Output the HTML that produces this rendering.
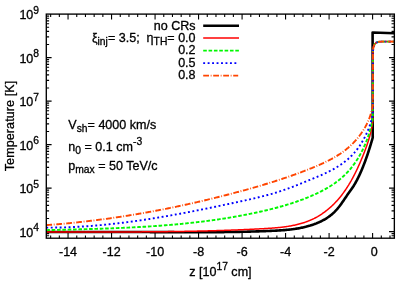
<!DOCTYPE html>
<html><head><meta charset="utf-8"><title>Temperature profile</title>
<style>
html,body{margin:0;padding:0;background:#fff;}
body{width:415px;height:291px;overflow:hidden;font-family:"Liberation Sans",sans-serif;}
svg{display:block;will-change:transform;}
</style></head><body>
<svg width="415" height="291" viewBox="0 0 415 291">
<defs><clipPath id="clip"><rect x="46.3" y="14.1" width="348.05" height="224.1"/></clipPath></defs>
<rect width="415" height="291" fill="#fff"/>
<path d="M50.65,238.2 v-2.8 M50.65,14.1 v2.8 M59.35,238.2 v-2.8 M59.35,14.1 v2.8 M68.05,238.2 v-5.3 M68.05,14.1 v5.3 M76.75,238.2 v-2.8 M76.75,14.1 v2.8 M85.46,238.2 v-2.8 M85.46,14.1 v2.8 M94.16,238.2 v-2.8 M94.16,14.1 v2.8 M102.86,238.2 v-2.8 M102.86,14.1 v2.8 M111.56,238.2 v-5.3 M111.56,14.1 v5.3 M120.26,238.2 v-2.8 M120.26,14.1 v2.8 M128.96,238.2 v-2.8 M128.96,14.1 v2.8 M137.66,238.2 v-2.8 M137.66,14.1 v2.8 M146.36,238.2 v-2.8 M146.36,14.1 v2.8 M155.07,238.2 v-5.3 M155.07,14.1 v5.3 M163.77,238.2 v-2.8 M163.77,14.1 v2.8 M172.47,238.2 v-2.8 M172.47,14.1 v2.8 M181.17,238.2 v-2.8 M181.17,14.1 v2.8 M189.87,238.2 v-2.8 M189.87,14.1 v2.8 M198.57,238.2 v-5.3 M198.57,14.1 v5.3 M207.27,238.2 v-2.8 M207.27,14.1 v2.8 M215.97,238.2 v-2.8 M215.97,14.1 v2.8 M224.68,238.2 v-2.8 M224.68,14.1 v2.8 M233.38,238.2 v-2.8 M233.38,14.1 v2.8 M242.08,238.2 v-5.3 M242.08,14.1 v5.3 M250.78,238.2 v-2.8 M250.78,14.1 v2.8 M259.48,238.2 v-2.8 M259.48,14.1 v2.8 M268.18,238.2 v-2.8 M268.18,14.1 v2.8 M276.88,238.2 v-2.8 M276.88,14.1 v2.8 M285.58,238.2 v-5.3 M285.58,14.1 v5.3 M294.29,238.2 v-2.8 M294.29,14.1 v2.8 M302.99,238.2 v-2.8 M302.99,14.1 v2.8 M311.69,238.2 v-2.8 M311.69,14.1 v2.8 M320.39,238.2 v-2.8 M320.39,14.1 v2.8 M329.09,238.2 v-5.3 M329.09,14.1 v5.3 M337.79,238.2 v-2.8 M337.79,14.1 v2.8 M346.49,238.2 v-2.8 M346.49,14.1 v2.8 M355.19,238.2 v-2.8 M355.19,14.1 v2.8 M363.90,238.2 v-2.8 M363.90,14.1 v2.8 M372.60,238.2 v-5.3 M372.60,14.1 v5.3 M381.30,238.2 v-2.8 M381.30,14.1 v2.8 M390.00,238.2 v-2.8 M390.00,14.1 v2.8 M46.3,235.82 h2.8 M394.35,235.82 h-2.8 M46.3,233.59 h2.8 M394.35,233.59 h-2.8 M46.3,231.60 h5.3 M394.35,231.60 h-5.3 M46.3,218.51 h2.8 M394.35,218.51 h-2.8 M46.3,210.85 h2.8 M394.35,210.85 h-2.8 M46.3,205.41 h2.8 M394.35,205.41 h-2.8 M46.3,201.19 h2.8 M394.35,201.19 h-2.8 M46.3,197.75 h2.8 M394.35,197.75 h-2.8 M46.3,194.84 h2.8 M394.35,194.84 h-2.8 M46.3,192.32 h2.8 M394.35,192.32 h-2.8 M46.3,190.09 h2.8 M394.35,190.09 h-2.8 M46.3,188.10 h5.3 M394.35,188.10 h-5.3 M46.3,175.01 h2.8 M394.35,175.01 h-2.8 M46.3,167.35 h2.8 M394.35,167.35 h-2.8 M46.3,161.91 h2.8 M394.35,161.91 h-2.8 M46.3,157.69 h2.8 M394.35,157.69 h-2.8 M46.3,154.25 h2.8 M394.35,154.25 h-2.8 M46.3,151.34 h2.8 M394.35,151.34 h-2.8 M46.3,148.82 h2.8 M394.35,148.82 h-2.8 M46.3,146.59 h2.8 M394.35,146.59 h-2.8 M46.3,144.60 h5.3 M394.35,144.60 h-5.3 M46.3,131.51 h2.8 M394.35,131.51 h-2.8 M46.3,123.85 h2.8 M394.35,123.85 h-2.8 M46.3,118.41 h2.8 M394.35,118.41 h-2.8 M46.3,114.19 h2.8 M394.35,114.19 h-2.8 M46.3,110.75 h2.8 M394.35,110.75 h-2.8 M46.3,107.84 h2.8 M394.35,107.84 h-2.8 M46.3,105.32 h2.8 M394.35,105.32 h-2.8 M46.3,103.09 h2.8 M394.35,103.09 h-2.8 M46.3,101.10 h5.3 M394.35,101.10 h-5.3 M46.3,88.01 h2.8 M394.35,88.01 h-2.8 M46.3,80.35 h2.8 M394.35,80.35 h-2.8 M46.3,74.91 h2.8 M394.35,74.91 h-2.8 M46.3,70.69 h2.8 M394.35,70.69 h-2.8 M46.3,67.25 h2.8 M394.35,67.25 h-2.8 M46.3,64.34 h2.8 M394.35,64.34 h-2.8 M46.3,61.82 h2.8 M394.35,61.82 h-2.8 M46.3,59.59 h2.8 M394.35,59.59 h-2.8 M46.3,57.60 h5.3 M394.35,57.60 h-5.3 M46.3,44.51 h2.8 M394.35,44.51 h-2.8 M46.3,36.85 h2.8 M394.35,36.85 h-2.8 M46.3,31.41 h2.8 M394.35,31.41 h-2.8 M46.3,27.19 h2.8 M394.35,27.19 h-2.8 M46.3,23.75 h2.8 M394.35,23.75 h-2.8 M46.3,20.84 h2.8 M394.35,20.84 h-2.8 M46.3,18.32 h2.8 M394.35,18.32 h-2.8 M46.3,16.09 h2.8 M394.35,16.09 h-2.8" stroke="#000" stroke-width="1.1" fill="none"/>
<g fill="none" stroke-linejoin="round" clip-path="url(#clip)">
<path d="M46.30,232.00 L47.24,232.00 L48.19,232.00 L49.13,232.00 L50.08,232.00 L51.02,232.00 L51.97,232.00 L52.91,232.00 L53.86,232.00 L54.80,232.00 L55.75,232.00 L56.69,232.00 L57.64,232.00 L58.58,232.00 L59.53,232.00 L60.47,232.00 L61.42,232.00 L62.36,232.00 L63.30,232.00 L64.25,232.00 L65.19,232.00 L66.14,232.00 L67.08,232.00 L68.03,232.00 L68.97,232.00 L69.92,232.00 L70.86,232.00 L71.81,232.00 L72.75,232.00 L73.70,232.00 L74.64,232.00 L75.59,232.00 L76.53,232.00 L77.47,232.00 L78.42,232.00 L79.36,232.00 L80.31,232.00 L81.25,232.00 L82.20,232.00 L83.14,232.00 L84.09,232.00 L85.03,232.00 L85.98,232.00 L86.92,232.00 L87.86,232.00 L88.81,232.00 L89.75,232.00 L90.70,232.00 L91.64,232.00 L92.59,232.00 L93.53,232.00 L94.48,232.00 L95.42,232.00 L96.36,232.00 L97.31,232.00 L98.25,232.00 L99.20,232.00 L100.14,232.00 L101.09,232.00 L102.03,232.00 L102.98,232.00 L103.92,232.00 L104.86,232.00 L105.81,232.00 L106.75,232.00 L107.70,232.00 L108.64,232.00 L109.59,232.00 L110.53,232.00 L111.48,232.00 L112.42,232.00 L113.36,232.00 L114.31,232.00 L115.25,232.01 L116.20,232.01 L117.14,232.01 L118.09,232.01 L119.03,232.01 L119.98,232.01 L120.92,232.01 L121.86,232.01 L122.81,232.01 L123.75,232.01 L124.70,232.02 L125.64,232.02 L126.59,232.02 L127.53,232.02 L128.48,232.02 L129.42,232.02 L130.37,232.02 L131.31,232.03 L132.25,232.03 L133.20,232.03 L134.14,232.03 L135.09,232.03 L136.03,232.04 L136.98,232.04 L137.92,232.04 L138.87,232.04 L139.81,232.05 L140.75,232.05 L141.70,232.05 L142.64,232.05 L143.59,232.06 L144.53,232.06 L145.48,232.06 L146.42,232.06 L147.37,232.07 L148.31,232.07 L149.26,232.07 L150.20,232.08 L151.14,232.08 L152.09,232.08 L153.03,232.09 L153.98,232.09 L154.92,232.10 L155.87,232.10 L156.81,232.10 L157.76,232.11 L158.70,232.11 L159.65,232.12 L160.59,232.12 L161.54,232.12 L162.48,232.13 L163.42,232.13 L164.37,232.14 L165.31,232.14 L166.26,232.14 L167.20,232.15 L168.15,232.15 L169.09,232.16 L170.04,232.16 L170.98,232.16 L171.93,232.17 L172.87,232.17 L173.82,232.17 L174.76,232.18 L175.71,232.18 L176.65,232.18 L177.60,232.19 L178.54,232.19 L179.48,232.19 L180.43,232.20 L181.37,232.20 L182.32,232.20 L183.26,232.20 L184.21,232.21 L185.15,232.21 L186.10,232.21 L187.04,232.21 L187.99,232.21 L188.93,232.22 L189.88,232.22 L190.82,232.22 L191.77,232.22 L192.71,232.22 L193.66,232.22 L194.60,232.22 L195.55,232.22 L196.49,232.22 L197.44,232.22 L198.38,232.22 L199.33,232.22 L200.27,232.22 L201.22,232.22 L202.16,232.21 L203.11,232.21 L204.05,232.21 L205.00,232.21 L205.94,232.20 L206.89,232.20 L207.83,232.20 L208.78,232.19 L209.73,232.19 L210.67,232.18 L211.62,232.18 L212.56,232.17 L213.51,232.17 L214.45,232.16 L215.40,232.16 L216.34,232.15 L217.29,232.14 L218.23,232.13 L219.18,232.13 L220.12,232.12 L221.07,232.11 L222.01,232.10 L222.96,232.09 L223.91,232.08 L224.85,232.07 L225.80,232.06 L226.74,232.05 L227.69,232.03 L228.63,232.02 L229.58,232.01 L230.52,232.00 L231.47,231.98 L232.42,231.97 L233.36,231.95 L234.31,231.94 L235.25,231.92 L236.20,231.90 L237.14,231.89 L238.09,231.87 L239.04,231.85 L239.98,231.83 L240.93,231.81 L241.87,231.79 L242.82,231.77 L243.77,231.75 L244.71,231.73 L245.66,231.71 L246.60,231.69 L247.55,231.66 L248.49,231.64 L249.44,231.61 L250.39,231.59 L251.33,231.56 L252.28,231.54 L253.23,231.51 L254.17,231.48 L255.12,231.45 L256.06,231.42 L257.01,231.39 L257.96,231.36 L258.90,231.33 L259.85,231.30 L260.79,231.27 L261.74,231.23 L262.69,231.20 L263.63,231.17 L264.58,231.13 L265.53,231.09 L266.47,231.06 L267.42,231.02 L268.37,230.98 L269.31,230.94 L270.26,230.90 L271.21,230.86 L272.15,230.82 L273.10,230.77 L274.04,230.73 L274.99,230.68 L275.94,230.63 L276.88,230.58 L277.83,230.53 L278.77,230.48 L279.72,230.42 L280.66,230.36 L281.60,230.29 L282.54,230.23 L283.49,230.15 L284.43,230.08 L285.37,230.00 L286.30,229.92 L287.24,229.83 L288.18,229.74 L289.12,229.64 L290.05,229.54 L290.98,229.43 L291.92,229.32 L292.85,229.20 L293.78,229.07 L294.70,228.94 L295.63,228.80 L296.56,228.66 L297.48,228.51 L298.40,228.35 L299.32,228.18 L300.24,228.01 L301.16,227.83 L302.07,227.64 L302.98,227.45 L303.90,227.24 L304.80,227.03 L305.71,226.81 L306.61,226.57 L307.52,226.33 L308.42,226.08 L309.31,225.82 L310.21,225.56 L311.10,225.28 L311.99,224.99 L312.88,224.69 L313.76,224.38 L314.65,224.05 L315.52,223.72 L316.40,223.38 L317.27,223.02 L318.13,222.65 L318.99,222.28 L319.85,221.88 L320.70,221.48 L321.54,221.06 L322.38,220.63 L323.21,220.19 L324.03,219.74 L324.85,219.27 L325.66,218.78 L326.46,218.29 L327.25,217.78 L328.03,217.25 L328.80,216.71 L329.56,216.16 L330.32,215.59 L331.06,215.00 L331.79,214.40 L332.51,213.79 L333.22,213.15 L333.91,212.51 L334.60,211.84 L335.27,211.16 L335.93,210.47 L336.58,209.75 L337.21,209.03 L337.83,208.29 L338.45,207.54 L339.05,206.77 L339.65,206.00 L340.23,205.22 L340.81,204.43 L341.38,203.64 L341.95,202.84 L342.51,202.04 L343.06,201.23 L343.61,200.43 L344.16,199.62 L344.71,198.82 L345.25,198.01 L345.79,197.21 L346.33,196.42 L346.87,195.63 L347.41,194.84 L347.95,194.07 L348.49,193.30 L349.04,192.54 L349.58,191.79 L350.12,191.04 L350.66,190.29 L351.19,189.54 L351.72,188.78 L352.24,188.02 L352.75,187.26 L353.25,186.49 L353.75,185.71 L354.23,184.92 L354.71,184.12 L355.18,183.32 L355.64,182.51 L356.09,181.69 L356.54,180.87 L356.98,180.04 L357.41,179.21 L357.83,178.37 L358.25,177.53 L358.66,176.68 L359.07,175.83 L359.47,174.97 L359.86,174.11 L360.25,173.25 L360.64,172.39 L361.02,171.52 L361.39,170.65 L361.76,169.78 L362.13,168.90 L362.49,168.03 L362.85,167.15 L363.20,166.27 L363.55,165.39 L363.90,164.51 L364.24,163.62 L364.58,162.74 L364.91,161.85 L365.24,160.96 L365.57,160.07 L365.89,159.18 L366.21,158.29 L366.52,157.39 L366.83,156.50 L367.14,155.60 L367.45,154.71 L367.75,153.81 L368.05,152.91 L368.35,152.01 L368.64,151.11 L368.93,150.21 L369.22,149.31 L369.51,148.41 L369.79,147.51 L370.07,146.61 L370.35,145.71 L370.62,144.81 L370.90,143.90 L371.17,143.00 L371.44,142.10 L371.70,141.20 L371.97,140.30 L372.23,139.40 L372.49,138.50 L372.75,137.60 L372.60,32.50 L394.35,33.30" stroke="#000" stroke-width="2.6"/>
<path d="M46.30,232.00 L47.27,232.00 L48.24,232.00 L49.21,232.00 L50.18,232.00 L51.15,232.00 L52.12,232.00 L53.09,232.00 L54.06,232.00 L55.03,232.00 L56.00,232.00 L56.97,232.00 L57.94,232.00 L58.91,232.00 L59.88,232.00 L60.85,232.00 L61.82,232.00 L62.79,232.00 L63.76,232.00 L64.72,232.00 L65.69,232.00 L66.66,232.00 L67.63,232.00 L68.60,232.00 L69.57,232.00 L70.54,232.00 L71.51,232.00 L72.48,232.00 L73.45,232.00 L74.42,232.00 L75.39,232.00 L76.36,232.00 L77.33,232.00 L78.30,232.00 L79.27,232.00 L80.24,232.00 L81.20,232.00 L82.17,232.00 L83.14,232.00 L84.11,232.00 L85.08,232.00 L86.05,232.00 L87.02,232.00 L87.99,232.00 L88.96,232.00 L89.93,232.00 L90.90,232.00 L91.87,232.00 L92.83,232.00 L93.80,232.00 L94.77,232.00 L95.74,232.00 L96.71,232.00 L97.68,232.00 L98.65,232.00 L99.62,232.00 L100.59,232.00 L101.56,232.00 L102.53,232.00 L103.49,232.00 L104.46,232.00 L105.43,232.00 L106.40,232.00 L107.37,231.99 L108.34,231.99 L109.31,231.99 L110.28,231.99 L111.25,231.99 L112.22,231.99 L113.18,231.99 L114.15,231.98 L115.12,231.98 L116.09,231.98 L117.06,231.98 L118.03,231.98 L119.00,231.97 L119.97,231.97 L120.94,231.97 L121.91,231.97 L122.87,231.96 L123.84,231.96 L124.81,231.96 L125.78,231.95 L126.75,231.95 L127.72,231.95 L128.69,231.94 L129.66,231.94 L130.63,231.93 L131.60,231.93 L132.57,231.93 L133.53,231.92 L134.50,231.92 L135.47,231.91 L136.44,231.91 L137.41,231.90 L138.38,231.90 L139.35,231.89 L140.32,231.88 L141.29,231.88 L142.26,231.87 L143.23,231.87 L144.19,231.86 L145.16,231.85 L146.13,231.85 L147.10,231.84 L148.07,231.83 L149.04,231.82 L150.01,231.82 L150.98,231.81 L151.95,231.80 L152.92,231.79 L153.89,231.78 L154.86,231.77 L155.83,231.76 L156.80,231.76 L157.77,231.75 L158.73,231.74 L159.70,231.73 L160.67,231.72 L161.64,231.70 L162.61,231.69 L163.58,231.68 L164.55,231.67 L165.52,231.66 L166.49,231.65 L167.46,231.64 L168.43,231.62 L169.40,231.61 L170.37,231.60 L171.34,231.59 L172.31,231.57 L173.28,231.56 L174.25,231.55 L175.22,231.53 L176.19,231.52 L177.16,231.50 L178.13,231.49 L179.10,231.47 L180.07,231.46 L181.04,231.44 L182.01,231.42 L182.98,231.41 L183.95,231.39 L184.92,231.37 L185.89,231.35 L186.86,231.34 L187.83,231.32 L188.80,231.30 L189.77,231.28 L190.74,231.26 L191.71,231.24 L192.68,231.22 L193.65,231.20 L194.62,231.18 L195.59,231.16 L196.56,231.14 L197.53,231.12 L198.50,231.10 L199.48,231.07 L200.45,231.05 L201.42,231.03 L202.39,231.00 L203.36,230.98 L204.33,230.96 L205.30,230.93 L206.27,230.91 L207.24,230.88 L208.21,230.86 L209.18,230.83 L210.16,230.80 L211.13,230.78 L212.10,230.75 L213.07,230.72 L214.04,230.69 L215.01,230.67 L215.98,230.64 L216.95,230.61 L217.93,230.58 L218.90,230.55 L219.87,230.52 L220.84,230.49 L221.81,230.46 L222.78,230.42 L223.76,230.39 L224.73,230.36 L225.70,230.33 L226.67,230.29 L227.64,230.26 L228.61,230.22 L229.59,230.19 L230.56,230.15 L231.53,230.12 L232.50,230.08 L233.48,230.04 L234.45,230.01 L235.42,229.97 L236.39,229.93 L237.37,229.89 L238.34,229.85 L239.31,229.82 L240.28,229.78 L241.26,229.73 L242.23,229.69 L243.20,229.65 L244.17,229.61 L245.15,229.57 L246.12,229.52 L247.09,229.48 L248.07,229.44 L249.04,229.39 L250.01,229.35 L250.99,229.30 L251.96,229.26 L252.93,229.21 L253.91,229.16 L254.88,229.12 L255.85,229.07 L256.83,229.02 L257.80,228.97 L258.77,228.92 L259.75,228.87 L260.72,228.82 L261.70,228.77 L262.67,228.72 L263.64,228.66 L264.62,228.61 L265.59,228.55 L266.56,228.49 L267.54,228.43 L268.51,228.37 L269.48,228.31 L270.45,228.24 L271.42,228.17 L272.39,228.10 L273.36,228.02 L274.33,227.95 L275.30,227.86 L276.27,227.78 L277.23,227.69 L278.20,227.59 L279.16,227.50 L280.12,227.39 L281.08,227.28 L282.04,227.17 L283.00,227.05 L283.96,226.93 L284.91,226.80 L285.87,226.67 L286.82,226.52 L287.77,226.38 L288.72,226.22 L289.67,226.06 L290.61,225.90 L291.56,225.72 L292.50,225.54 L293.44,225.35 L294.37,225.15 L295.31,224.95 L296.24,224.74 L297.17,224.52 L298.10,224.29 L299.02,224.05 L299.95,223.80 L300.87,223.54 L301.78,223.28 L302.70,223.00 L303.61,222.72 L304.52,222.42 L305.42,222.12 L306.33,221.80 L307.22,221.47 L308.12,221.13 L309.01,220.78 L309.89,220.42 L310.77,220.05 L311.65,219.66 L312.52,219.26 L313.39,218.84 L314.25,218.42 L315.10,217.98 L315.95,217.53 L316.79,217.06 L317.63,216.59 L318.46,216.10 L319.29,215.60 L320.11,215.09 L320.92,214.57 L321.73,214.04 L322.53,213.49 L323.32,212.94 L324.11,212.37 L324.89,211.80 L325.66,211.22 L326.43,210.62 L327.19,210.02 L327.95,209.40 L328.69,208.78 L329.43,208.15 L330.16,207.51 L330.89,206.86 L331.61,206.20 L332.31,205.53 L333.02,204.86 L333.71,204.18 L334.40,203.49 L335.08,202.79 L335.75,202.09 L336.41,201.38 L337.06,200.66 L337.71,199.93 L338.35,199.20 L338.98,198.46 L339.60,197.72 L340.22,196.97 L340.82,196.21 L341.43,195.45 L342.02,194.68 L342.60,193.91 L343.18,193.13 L343.76,192.34 L344.32,191.55 L344.88,190.76 L345.43,189.96 L345.98,189.15 L346.51,188.34 L347.05,187.53 L347.57,186.71 L348.09,185.88 L348.61,185.06 L349.11,184.22 L349.61,183.39 L350.11,182.55 L350.60,181.70 L351.09,180.86 L351.56,180.01 L352.04,179.15 L352.51,178.30 L352.97,177.43 L353.43,176.57 L353.88,175.71 L354.33,174.84 L354.77,173.97 L355.21,173.09 L355.64,172.22 L356.07,171.34 L356.50,170.46 L356.92,169.58 L357.33,168.69 L357.74,167.81 L358.15,166.92 L358.55,166.03 L358.95,165.14 L359.35,164.25 L359.74,163.36 L360.13,162.47 L360.52,161.57 L360.90,160.68 L361.28,159.79 L361.65,158.89 L362.02,158.00 L362.39,157.10 L362.76,156.21 L363.12,155.31 L363.48,154.42 L363.84,153.52 L364.19,152.62 L364.54,151.73 L364.88,150.83 L365.22,149.93 L365.55,149.03 L365.88,148.13 L366.21,147.22 L366.53,146.32 L366.85,145.41 L367.16,144.51 L367.46,143.60 L367.76,142.69 L368.06,141.77 L368.35,140.86 L368.63,139.94 L368.91,139.02 L369.18,138.10 L369.44,137.18 L369.70,136.25 L369.95,135.32 L370.19,134.39 L370.43,133.46 L370.66,132.52 L370.88,131.58 L371.09,130.64 L371.30,129.69 L371.50,128.74 L371.69,127.78 L371.88,126.83 L372.05,125.87 L372.22,124.90 L372.38,123.93 L372.53,122.96 L372.67,121.98 L372.80,121.00 L372.95,53.00 L372.96,52.23 L372.99,51.47 L373.04,50.72 L373.10,49.96 L373.17,49.22 L373.25,48.47 L373.37,47.73 L373.54,46.98 L373.76,46.24 L374.01,45.53 L374.30,44.85 L374.69,44.16 L375.16,43.53 L375.67,43.04 L376.30,42.66 L377.02,42.35 L377.76,42.11 L378.48,41.93 L379.23,41.77 L379.98,41.67 L380.74,41.64 L381.49,41.61 L382.25,41.60 L383.01,41.60 L383.76,41.60 L384.52,41.60 L385.28,41.60 L386.03,41.60 L386.79,41.60 L387.54,41.60 L388.30,41.60 L389.06,41.60 L389.81,41.60 L390.57,41.60 L391.32,41.60 L392.08,41.60 L392.84,41.60 L393.59,41.60 L394.35,41.60" stroke="#ff0000" stroke-width="1.5"/>
<path d="M46.30,230.10 L47.23,230.08 L48.16,230.06 L49.09,230.04 L50.02,230.02 L50.94,230.00 L51.87,229.98 L52.80,229.96 L53.73,229.93 L54.66,229.91 L55.59,229.89 L56.52,229.87 L57.45,229.85 L58.38,229.83 L59.31,229.81 L60.25,229.79 L61.18,229.77 L62.11,229.75 L63.04,229.73 L63.97,229.70 L64.90,229.68 L65.83,229.66 L66.77,229.64 L67.70,229.62 L68.63,229.60 L69.56,229.57 L70.49,229.55 L71.43,229.53 L72.36,229.51 L73.29,229.49 L74.23,229.46 L75.16,229.44 L76.09,229.42 L77.02,229.39 L77.96,229.37 L78.89,229.35 L79.82,229.32 L80.76,229.30 L81.69,229.27 L82.63,229.25 L83.56,229.22 L84.49,229.20 L85.43,229.17 L86.36,229.15 L87.30,229.12 L88.23,229.10 L89.17,229.07 L90.10,229.04 L91.03,229.02 L91.97,228.99 L92.90,228.96 L93.84,228.93 L94.77,228.90 L95.71,228.88 L96.64,228.85 L97.58,228.82 L98.51,228.79 L99.45,228.76 L100.38,228.73 L101.32,228.70 L102.25,228.67 L103.19,228.63 L104.13,228.60 L105.06,228.57 L106.00,228.54 L106.93,228.50 L107.87,228.47 L108.80,228.44 L109.74,228.40 L110.67,228.37 L111.61,228.33 L112.55,228.29 L113.48,228.26 L114.42,228.22 L115.35,228.18 L116.29,228.15 L117.22,228.11 L118.16,228.07 L119.10,228.03 L120.03,227.99 L120.97,227.95 L121.90,227.91 L122.84,227.87 L123.78,227.82 L124.71,227.78 L125.65,227.74 L126.58,227.70 L127.52,227.65 L128.45,227.61 L129.39,227.56 L130.33,227.51 L131.26,227.47 L132.20,227.42 L133.13,227.37 L134.07,227.32 L135.00,227.27 L135.94,227.22 L136.88,227.17 L137.81,227.12 L138.75,227.07 L139.68,227.02 L140.62,226.96 L141.55,226.91 L142.49,226.86 L143.42,226.80 L144.36,226.74 L145.29,226.69 L146.23,226.63 L147.16,226.57 L148.10,226.51 L149.03,226.45 L149.97,226.39 L150.90,226.33 L151.84,226.27 L152.77,226.21 L153.71,226.14 L154.64,226.08 L155.58,226.01 L156.51,225.95 L157.45,225.88 L158.38,225.81 L159.31,225.75 L160.25,225.68 L161.18,225.61 L162.11,225.53 L163.05,225.46 L163.98,225.39 L164.92,225.32 L165.85,225.24 L166.78,225.17 L167.72,225.09 L168.65,225.01 L169.58,224.94 L170.51,224.86 L171.45,224.78 L172.38,224.70 L173.31,224.61 L174.24,224.53 L175.18,224.45 L176.11,224.36 L177.04,224.28 L177.97,224.19 L178.90,224.10 L179.83,224.02 L180.77,223.93 L181.70,223.84 L182.63,223.74 L183.56,223.65 L184.49,223.56 L185.42,223.46 L186.35,223.37 L187.28,223.27 L188.21,223.17 L189.14,223.08 L190.07,222.98 L191.00,222.88 L191.93,222.77 L192.86,222.67 L193.79,222.57 L194.72,222.46 L195.65,222.35 L196.57,222.25 L197.50,222.14 L198.43,222.03 L199.36,221.92 L200.29,221.81 L201.21,221.69 L202.14,221.58 L203.07,221.46 L204.00,221.35 L204.92,221.23 L205.85,221.11 L206.78,220.99 L207.70,220.87 L208.63,220.75 L209.55,220.62 L210.48,220.50 L211.40,220.37 L212.33,220.24 L213.25,220.11 L214.18,219.98 L215.10,219.85 L216.03,219.72 L216.95,219.59 L217.87,219.45 L218.80,219.32 L219.72,219.18 L220.64,219.04 L221.57,218.90 L222.49,218.76 L223.41,218.61 L224.33,218.47 L225.26,218.32 L226.18,218.18 L227.10,218.03 L228.02,217.88 L228.94,217.73 L229.86,217.58 L230.78,217.42 L231.70,217.27 L232.62,217.11 L233.54,216.95 L234.46,216.79 L235.38,216.63 L236.30,216.47 L237.21,216.31 L238.13,216.14 L239.05,215.97 L239.97,215.81 L240.88,215.64 L241.80,215.47 L242.72,215.29 L243.63,215.12 L244.55,214.94 L245.47,214.77 L246.38,214.59 L247.30,214.41 L248.21,214.23 L249.12,214.04 L250.04,213.86 L250.95,213.67 L251.87,213.49 L252.78,213.30 L253.69,213.11 L254.60,212.91 L255.52,212.72 L256.43,212.52 L257.34,212.33 L258.25,212.13 L259.16,211.93 L260.07,211.73 L260.98,211.52 L261.89,211.32 L262.80,211.11 L263.71,210.90 L264.62,210.69 L265.53,210.48 L266.43,210.27 L267.34,210.05 L268.25,209.83 L269.15,209.61 L270.06,209.39 L270.97,209.16 L271.87,208.94 L272.77,208.71 L273.68,208.48 L274.58,208.24 L275.48,208.01 L276.39,207.77 L277.29,207.53 L278.19,207.29 L279.09,207.04 L279.99,206.79 L280.89,206.54 L281.78,206.29 L282.68,206.03 L283.58,205.77 L284.47,205.51 L285.37,205.25 L286.26,204.98 L287.16,204.71 L288.05,204.43 L288.94,204.16 L289.83,203.88 L290.72,203.59 L291.61,203.31 L292.50,203.02 L293.39,202.72 L294.27,202.43 L295.16,202.13 L296.04,201.83 L296.93,201.52 L297.81,201.21 L298.69,200.90 L299.57,200.58 L300.45,200.26 L301.33,199.93 L302.21,199.61 L303.09,199.27 L303.96,198.94 L304.84,198.60 L305.71,198.25 L306.58,197.91 L307.45,197.55 L308.32,197.20 L309.19,196.84 L310.06,196.47 L310.93,196.11 L311.79,195.73 L312.66,195.36 L313.52,194.98 L314.38,194.59 L315.24,194.20 L316.09,193.80 L316.94,193.40 L317.80,193.00 L318.64,192.59 L319.49,192.17 L320.33,191.75 L321.17,191.32 L322.01,190.89 L322.84,190.45 L323.67,190.01 L324.50,189.56 L325.32,189.11 L326.14,188.65 L326.95,188.18 L327.76,187.71 L328.57,187.23 L329.37,186.74 L330.16,186.25 L330.95,185.75 L331.74,185.25 L332.52,184.73 L333.29,184.22 L334.06,183.69 L334.83,183.16 L335.58,182.62 L336.34,182.07 L337.08,181.52 L337.82,180.96 L338.55,180.39 L339.28,179.81 L340.00,179.23 L340.71,178.63 L341.41,178.03 L342.11,177.43 L342.80,176.81 L343.48,176.19 L344.16,175.55 L344.83,174.91 L345.48,174.26 L346.14,173.61 L346.78,172.94 L347.41,172.27 L348.04,171.59 L348.66,170.91 L349.28,170.21 L349.88,169.51 L350.48,168.80 L351.07,168.09 L351.65,167.36 L352.23,166.63 L352.79,165.90 L353.35,165.16 L353.90,164.41 L354.45,163.66 L354.98,162.89 L355.51,162.13 L356.04,161.36 L356.55,160.58 L357.06,159.79 L357.56,159.01 L358.05,158.21 L358.53,157.41 L359.01,156.61 L359.48,155.80 L359.94,154.98 L360.39,154.16 L360.84,153.34 L361.28,152.51 L361.71,151.68 L362.14,150.84 L362.55,150.00 L362.97,149.16 L363.37,148.31 L363.76,147.45 L364.15,146.60 L364.53,145.74 L364.91,144.87 L365.27,144.01 L365.63,143.14 L365.98,142.26 L366.33,141.39 L366.67,140.51 L367.00,139.63 L367.32,138.75 L367.64,137.86 L367.95,136.97 L368.25,136.08 L368.54,135.19 L368.83,134.29 L369.11,133.40 L369.38,132.50 L369.65,131.60 L369.91,130.70 L370.16,129.80 L370.40,128.89 L370.64,127.99 L370.87,127.08 L371.10,126.18 L371.31,125.27 L371.52,124.36 L371.73,123.45 L371.92,122.54 L372.11,121.64 L372.29,120.73 L372.47,119.82 L372.64,118.91 L372.80,118.00 L372.95,53.00 L372.96,52.23 L372.99,51.47 L373.04,50.72 L373.10,49.96 L373.17,49.22 L373.25,48.47 L373.37,47.73 L373.54,46.98 L373.76,46.24 L374.01,45.53 L374.30,44.85 L374.69,44.16 L375.16,43.53 L375.67,43.04 L376.30,42.66 L377.02,42.35 L377.76,42.11 L378.48,41.93 L379.23,41.77 L379.98,41.67 L380.74,41.64 L381.49,41.61 L382.25,41.60 L383.01,41.60 L383.76,41.60 L384.52,41.60 L385.28,41.60 L386.03,41.60 L386.79,41.60 L387.54,41.60 L388.30,41.60 L389.06,41.60 L389.81,41.60 L390.57,41.60 L391.32,41.60 L392.08,41.60 L392.84,41.60 L393.59,41.60 L394.35,41.60" stroke="#00f800" stroke-width="1.9" stroke-dasharray="3.6,1.75"/>
<path d="M46.30,227.60 L47.21,227.60 L48.13,227.61 L49.04,227.61 L49.96,227.61 L50.87,227.60 L51.78,227.60 L52.70,227.59 L53.61,227.59 L54.53,227.58 L55.44,227.57 L56.35,227.55 L57.27,227.54 L58.18,227.52 L59.10,227.50 L60.01,227.49 L60.92,227.46 L61.84,227.44 L62.75,227.42 L63.67,227.39 L64.58,227.37 L65.49,227.34 L66.41,227.31 L67.32,227.28 L68.24,227.24 L69.15,227.21 L70.06,227.17 L70.98,227.13 L71.89,227.09 L72.81,227.05 L73.72,227.01 L74.63,226.97 L75.55,226.92 L76.46,226.87 L77.37,226.83 L78.29,226.78 L79.20,226.72 L80.12,226.67 L81.03,226.62 L81.94,226.56 L82.86,226.50 L83.77,226.45 L84.68,226.39 L85.60,226.33 L86.51,226.26 L87.42,226.20 L88.34,226.13 L89.25,226.07 L90.16,226.00 L91.08,225.93 L91.99,225.86 L92.90,225.79 L93.81,225.71 L94.73,225.64 L95.64,225.56 L96.55,225.48 L97.47,225.40 L98.38,225.32 L99.29,225.24 L100.20,225.16 L101.12,225.08 L102.03,224.99 L102.94,224.90 L103.85,224.82 L104.76,224.73 L105.68,224.64 L106.59,224.55 L107.50,224.45 L108.41,224.36 L109.32,224.26 L110.24,224.17 L111.15,224.07 L112.06,223.97 L112.97,223.87 L113.88,223.77 L114.79,223.67 L115.71,223.56 L116.62,223.46 L117.53,223.35 L118.44,223.25 L119.35,223.14 L120.26,223.03 L121.17,222.92 L122.08,222.81 L122.99,222.70 L123.90,222.58 L124.81,222.47 L125.72,222.35 L126.63,222.24 L127.54,222.12 L128.45,222.00 L129.36,221.88 L130.27,221.76 L131.18,221.64 L132.09,221.51 L133.00,221.39 L133.91,221.26 L134.82,221.14 L135.73,221.01 L136.64,220.88 L137.55,220.75 L138.46,220.62 L139.36,220.49 L140.27,220.36 L141.18,220.23 L142.09,220.09 L143.00,219.96 L143.91,219.82 L144.81,219.69 L145.72,219.55 L146.63,219.41 L147.54,219.27 L148.44,219.13 L149.35,218.99 L150.26,218.85 L151.17,218.70 L152.07,218.56 L152.98,218.42 L153.89,218.27 L154.79,218.12 L155.70,217.98 L156.60,217.83 L157.51,217.68 L158.42,217.53 L159.32,217.38 L160.23,217.23 L161.13,217.08 L162.04,216.92 L162.94,216.77 L163.85,216.62 L164.75,216.46 L165.66,216.31 L166.56,216.15 L167.47,215.99 L168.37,215.83 L169.27,215.68 L170.18,215.52 L171.08,215.36 L171.99,215.19 L172.89,215.03 L173.79,214.87 L174.70,214.71 L175.60,214.54 L176.50,214.38 L177.40,214.22 L178.31,214.05 L179.21,213.88 L180.11,213.72 L181.01,213.55 L181.91,213.38 L182.81,213.21 L183.72,213.04 L184.62,212.87 L185.52,212.70 L186.42,212.53 L187.32,212.36 L188.22,212.19 L189.12,212.02 L190.02,211.84 L190.92,211.67 L191.82,211.49 L192.72,211.32 L193.62,211.14 L194.52,210.97 L195.42,210.79 L196.31,210.61 L197.21,210.44 L198.11,210.26 L199.01,210.08 L199.91,209.90 L200.80,209.72 L201.70,209.54 L202.60,209.36 L203.50,209.18 L204.39,209.00 L205.29,208.82 L206.18,208.64 L207.08,208.45 L207.98,208.27 L208.87,208.09 L209.77,207.90 L210.66,207.72 L211.56,207.54 L212.45,207.35 L213.35,207.17 L214.24,206.98 L215.14,206.80 L216.03,206.61 L216.92,206.42 L217.82,206.24 L218.71,206.05 L219.60,205.86 L220.50,205.67 L221.39,205.49 L222.28,205.30 L223.17,205.11 L224.06,204.92 L224.96,204.73 L225.85,204.54 L226.74,204.35 L227.63,204.16 L228.52,203.97 L229.41,203.78 L230.30,203.59 L231.19,203.40 L232.08,203.21 L232.97,203.02 L233.86,202.83 L234.75,202.64 L235.64,202.44 L236.52,202.25 L237.41,202.06 L238.30,201.87 L239.19,201.68 L240.07,201.48 L240.96,201.29 L241.85,201.10 L242.73,200.91 L243.62,200.71 L244.51,200.52 L245.39,200.32 L246.28,200.13 L247.16,199.93 L248.05,199.74 L248.93,199.54 L249.82,199.34 L250.70,199.14 L251.58,198.94 L252.47,198.74 L253.35,198.54 L254.23,198.33 L255.12,198.12 L256.00,197.92 L256.88,197.71 L257.76,197.50 L258.64,197.28 L259.53,197.07 L260.41,196.85 L261.29,196.63 L262.17,196.41 L263.05,196.19 L263.93,195.97 L264.81,195.74 L265.69,195.51 L266.56,195.28 L267.44,195.04 L268.32,194.80 L269.20,194.56 L270.08,194.32 L270.95,194.07 L271.83,193.82 L272.71,193.57 L273.58,193.31 L274.46,193.05 L275.34,192.79 L276.21,192.53 L277.09,192.26 L277.96,191.98 L278.83,191.71 L279.71,191.43 L280.58,191.14 L281.46,190.85 L282.33,190.56 L283.20,190.26 L284.07,189.96 L284.95,189.66 L285.82,189.35 L286.69,189.04 L287.56,188.73 L288.43,188.41 L289.30,188.09 L290.17,187.77 L291.04,187.44 L291.91,187.11 L292.77,186.78 L293.64,186.45 L294.51,186.12 L295.37,185.78 L296.24,185.44 L297.10,185.10 L297.96,184.76 L298.83,184.41 L299.69,184.07 L300.55,183.72 L301.41,183.37 L302.27,183.03 L303.12,182.68 L303.98,182.33 L304.84,181.98 L305.69,181.63 L306.55,181.28 L307.40,180.92 L308.25,180.57 L309.10,180.22 L309.95,179.87 L310.80,179.52 L311.65,179.17 L312.49,178.82 L313.34,178.47 L314.18,178.12 L315.02,177.77 L315.87,177.42 L316.71,177.07 L317.54,176.71 L318.38,176.36 L319.22,176.00 L320.05,175.64 L320.88,175.27 L321.72,174.90 L322.55,174.53 L323.37,174.16 L324.20,173.78 L325.03,173.40 L325.85,173.01 L326.67,172.62 L327.49,172.23 L328.31,171.82 L329.13,171.42 L329.94,171.01 L330.75,170.59 L331.56,170.16 L332.37,169.73 L333.17,169.30 L333.97,168.85 L334.76,168.40 L335.56,167.95 L336.34,167.48 L337.13,167.01 L337.90,166.53 L338.68,166.05 L339.45,165.55 L340.21,165.05 L340.97,164.54 L341.72,164.02 L342.46,163.49 L343.20,162.95 L343.94,162.41 L344.66,161.85 L345.38,161.28 L346.09,160.71 L346.80,160.13 L347.50,159.53 L348.19,158.93 L348.87,158.32 L349.54,157.70 L350.21,157.07 L350.86,156.43 L351.51,155.78 L352.15,155.13 L352.78,154.46 L353.40,153.79 L354.02,153.11 L354.62,152.43 L355.21,151.73 L355.80,151.03 L356.37,150.32 L356.94,149.60 L357.49,148.88 L358.04,148.15 L358.57,147.41 L359.10,146.67 L359.61,145.92 L360.12,145.16 L360.61,144.40 L361.10,143.63 L361.58,142.86 L362.05,142.08 L362.51,141.29 L362.97,140.50 L363.42,139.70 L363.85,138.90 L364.28,138.09 L364.71,137.28 L365.12,136.46 L365.53,135.64 L365.93,134.81 L366.32,133.98 L366.71,133.15 L367.09,132.31 L367.45,131.47 L367.81,130.62 L368.16,129.77 L368.51,128.92 L368.84,128.06 L369.16,127.20 L369.48,126.34 L369.78,125.47 L370.08,124.60 L370.36,123.73 L370.64,122.85 L370.90,121.98 L371.16,121.10 L371.40,120.22 L371.63,119.33 L371.86,118.45 L372.07,117.56 L372.27,116.67 L372.46,115.78 L372.63,114.89 L372.80,114.00 L372.95,53.00 L372.96,52.23 L372.99,51.47 L373.04,50.72 L373.10,49.96 L373.17,49.22 L373.25,48.47 L373.37,47.73 L373.54,46.98 L373.76,46.24 L374.01,45.53 L374.30,44.85 L374.69,44.16 L375.16,43.53 L375.67,43.04 L376.30,42.66 L377.02,42.35 L377.76,42.11 L378.48,41.93 L379.23,41.77 L379.98,41.67 L380.74,41.64 L381.49,41.61 L382.25,41.60 L383.01,41.60 L383.76,41.60 L384.52,41.60 L385.28,41.60 L386.03,41.60 L386.79,41.60 L387.54,41.60 L388.30,41.60 L389.06,41.60 L389.81,41.60 L390.57,41.60 L391.32,41.60 L392.08,41.60 L392.84,41.60 L393.59,41.60 L394.35,41.60" stroke="#0000ff" stroke-width="1.9" stroke-dasharray="1.9,2.56"/>
<path d="M46.30,225.10 L47.21,225.03 L48.12,224.97 L49.03,224.90 L49.94,224.83 L50.85,224.76 L51.76,224.69 L52.68,224.62 L53.59,224.55 L54.50,224.48 L55.41,224.40 L56.32,224.33 L57.23,224.25 L58.14,224.18 L59.05,224.10 L59.96,224.02 L60.87,223.94 L61.78,223.86 L62.69,223.78 L63.60,223.70 L64.51,223.61 L65.42,223.53 L66.33,223.45 L67.24,223.36 L68.15,223.27 L69.06,223.19 L69.97,223.10 L70.88,223.01 L71.78,222.92 L72.69,222.83 L73.60,222.73 L74.51,222.64 L75.42,222.55 L76.33,222.45 L77.24,222.36 L78.15,222.26 L79.06,222.16 L79.97,222.06 L80.87,221.96 L81.78,221.86 L82.69,221.76 L83.60,221.66 L84.51,221.56 L85.42,221.45 L86.32,221.35 L87.23,221.24 L88.14,221.14 L89.05,221.03 L89.96,220.92 L90.86,220.81 L91.77,220.70 L92.68,220.59 L93.59,220.48 L94.49,220.37 L95.40,220.25 L96.31,220.14 L97.22,220.02 L98.12,219.91 L99.03,219.79 L99.94,219.67 L100.84,219.55 L101.75,219.43 L102.66,219.31 L103.56,219.19 L104.47,219.07 L105.37,218.95 L106.28,218.82 L107.19,218.70 L108.09,218.57 L109.00,218.45 L109.90,218.32 L110.81,218.19 L111.71,218.06 L112.62,217.93 L113.53,217.80 L114.43,217.67 L115.34,217.54 L116.24,217.40 L117.15,217.27 L118.05,217.14 L118.95,217.00 L119.86,216.86 L120.76,216.73 L121.67,216.59 L122.57,216.45 L123.48,216.31 L124.38,216.17 L125.28,216.03 L126.19,215.88 L127.09,215.74 L127.99,215.60 L128.90,215.45 L129.80,215.30 L130.70,215.16 L131.61,215.01 L132.51,214.86 L133.41,214.71 L134.31,214.56 L135.22,214.41 L136.12,214.26 L137.02,214.11 L137.92,213.96 L138.82,213.80 L139.73,213.65 L140.63,213.49 L141.53,213.34 L142.43,213.18 L143.33,213.02 L144.23,212.86 L145.13,212.70 L146.03,212.54 L146.93,212.38 L147.83,212.22 L148.73,212.06 L149.63,211.89 L150.53,211.73 L151.43,211.56 L152.33,211.40 L153.23,211.23 L154.13,211.06 L155.03,210.89 L155.93,210.72 L156.83,210.55 L157.73,210.38 L158.63,210.21 L159.53,210.04 L160.42,209.87 L161.32,209.69 L162.22,209.52 L163.12,209.34 L164.02,209.17 L164.91,208.99 L165.81,208.81 L166.71,208.63 L167.61,208.45 L168.50,208.27 L169.40,208.09 L170.30,207.91 L171.19,207.73 L172.09,207.55 L172.98,207.36 L173.88,207.18 L174.78,206.99 L175.67,206.81 L176.57,206.62 L177.46,206.43 L178.36,206.24 L179.25,206.05 L180.15,205.86 L181.04,205.67 L181.94,205.48 L182.83,205.29 L183.72,205.10 L184.62,204.90 L185.51,204.71 L186.41,204.51 L187.30,204.32 L188.19,204.12 L189.08,203.92 L189.98,203.73 L190.87,203.53 L191.76,203.33 L192.65,203.13 L193.55,202.93 L194.44,202.72 L195.33,202.52 L196.22,202.32 L197.11,202.12 L198.00,201.91 L198.89,201.71 L199.79,201.50 L200.68,201.29 L201.57,201.08 L202.46,200.88 L203.35,200.67 L204.24,200.46 L205.13,200.25 L206.01,200.04 L206.90,199.82 L207.79,199.61 L208.68,199.40 L209.57,199.18 L210.46,198.97 L211.35,198.75 L212.23,198.54 L213.12,198.32 L214.01,198.10 L214.90,197.89 L215.78,197.67 L216.67,197.45 L217.56,197.23 L218.44,197.01 L219.33,196.78 L220.21,196.56 L221.10,196.34 L221.99,196.11 L222.87,195.89 L223.76,195.66 L224.64,195.44 L225.53,195.21 L226.41,194.98 L227.29,194.76 L228.18,194.53 L229.06,194.30 L229.95,194.07 L230.83,193.84 L231.71,193.61 L232.60,193.37 L233.48,193.14 L234.36,192.91 L235.24,192.67 L236.12,192.44 L237.01,192.20 L237.89,191.97 L238.77,191.73 L239.65,191.49 L240.53,191.26 L241.41,191.02 L242.29,190.78 L243.17,190.54 L244.05,190.30 L244.93,190.06 L245.81,189.81 L246.69,189.57 L247.57,189.33 L248.45,189.08 L249.33,188.84 L250.20,188.59 L251.08,188.34 L251.96,188.09 L252.84,187.85 L253.71,187.60 L254.59,187.35 L255.47,187.09 L256.34,186.84 L257.22,186.59 L258.10,186.33 L258.97,186.08 L259.85,185.82 L260.72,185.56 L261.60,185.31 L262.47,185.05 L263.35,184.79 L264.22,184.52 L265.09,184.26 L265.97,184.00 L266.84,183.73 L267.71,183.47 L268.59,183.20 L269.46,182.93 L270.33,182.66 L271.20,182.39 L272.08,182.12 L272.95,181.84 L273.82,181.57 L274.69,181.29 L275.56,181.02 L276.43,180.74 L277.30,180.46 L278.17,180.18 L279.04,179.89 L279.91,179.61 L280.78,179.33 L281.65,179.04 L282.52,178.75 L283.38,178.46 L284.25,178.17 L285.12,177.88 L285.99,177.59 L286.86,177.29 L287.72,176.99 L288.59,176.70 L289.45,176.40 L290.32,176.09 L291.19,175.79 L292.05,175.49 L292.92,175.18 L293.78,174.87 L294.65,174.56 L295.51,174.25 L296.37,173.94 L297.24,173.63 L298.10,173.31 L298.97,172.99 L299.83,172.67 L300.69,172.35 L301.55,172.03 L302.41,171.70 L303.28,171.38 L304.14,171.05 L305.00,170.72 L305.86,170.39 L306.72,170.05 L307.58,169.72 L308.44,169.38 L309.30,169.04 L310.15,168.70 L311.01,168.36 L311.87,168.01 L312.72,167.66 L313.57,167.31 L314.43,166.96 L315.28,166.60 L316.13,166.24 L316.97,165.88 L317.82,165.52 L318.66,165.15 L319.50,164.78 L320.34,164.41 L321.18,164.03 L322.01,163.65 L322.85,163.27 L323.68,162.88 L324.50,162.49 L325.33,162.10 L326.15,161.71 L326.97,161.31 L327.78,160.90 L328.60,160.49 L329.40,160.08 L330.21,159.66 L331.01,159.24 L331.81,158.81 L332.60,158.37 L333.40,157.93 L334.18,157.49 L334.97,157.03 L335.74,156.58 L336.52,156.11 L337.29,155.64 L338.05,155.16 L338.82,154.68 L339.57,154.19 L340.32,153.69 L341.07,153.18 L341.81,152.66 L342.55,152.14 L343.28,151.61 L344.01,151.07 L344.73,150.53 L345.44,149.97 L346.15,149.41 L346.86,148.83 L347.55,148.25 L348.25,147.67 L348.93,147.07 L349.61,146.46 L350.28,145.85 L350.95,145.23 L351.61,144.60 L352.26,143.97 L352.91,143.33 L353.54,142.68 L354.17,142.02 L354.80,141.35 L355.41,140.68 L356.02,140.00 L356.62,139.31 L357.21,138.62 L357.79,137.92 L358.37,137.21 L358.94,136.49 L359.49,135.77 L360.04,135.04 L360.58,134.31 L361.12,133.57 L361.64,132.82 L362.15,132.06 L362.65,131.30 L363.15,130.54 L363.63,129.76 L364.11,128.98 L364.57,128.20 L365.03,127.41 L365.47,126.61 L365.90,125.81 L366.33,125.00 L366.74,124.18 L367.14,123.36 L367.53,122.54 L367.91,121.71 L368.28,120.87 L368.63,120.03 L368.98,119.18 L369.31,118.33 L369.63,117.48 L369.94,116.62 L370.24,115.75 L370.52,114.88 L370.79,114.00 L371.05,113.12 L371.30,112.24 L371.53,111.35 L371.76,110.45 L371.96,109.55 L372.16,108.65 L372.34,107.74 L372.51,106.83 L372.66,105.92 L372.80,105.00 L372.95,53.00 L372.96,52.23 L372.99,51.47 L373.04,50.72 L373.10,49.96 L373.17,49.22 L373.25,48.47 L373.37,47.73 L373.54,46.98 L373.76,46.24 L374.01,45.53 L374.30,44.85 L374.69,44.16 L375.16,43.53 L375.67,43.04 L376.30,42.66 L377.02,42.35 L377.76,42.11 L378.48,41.93 L379.23,41.77 L379.98,41.67 L380.74,41.64 L381.49,41.61 L382.25,41.60 L383.01,41.60 L383.76,41.60 L384.52,41.60 L385.28,41.60 L386.03,41.60 L386.79,41.60 L387.54,41.60 L388.30,41.60 L389.06,41.60 L389.81,41.60 L390.57,41.60 L391.32,41.60 L392.08,41.60 L392.84,41.60 L393.59,41.60 L394.35,41.60" stroke="#ff4500" stroke-width="1.9" stroke-dasharray="5.8,1.7,0.8,1.7"/>
</g>
<g fill="none">
<path d="M203.2,25.7 H239.0" stroke="#000" stroke-width="2.6"/>
<path d="M203.2,38.1 H239.0" stroke="#ff0000" stroke-width="1.5"/>
<path d="M203.2,50.6 H239.0" stroke="#00f800" stroke-width="1.9" stroke-dasharray="3.6,1.75"/>
<path d="M203.2,63.1 H237.5" stroke="#0000ff" stroke-width="1.9" stroke-dasharray="1.9,2.56"/>
<path d="M203.2,75.6 H238.2" stroke="#ff4500" stroke-width="1.9" stroke-dasharray="5.8,1.7,0.8,1.7"/>
</g>
<rect x="46.3" y="14.1" width="348.05" height="224.1" fill="none" stroke="#000" stroke-width="1.35"/>
<g font-family="Liberation Sans, sans-serif" font-size="12.55" fill="#000" stroke="#000" stroke-width="0.3" stroke-linejoin="round">
<text x="39.1" y="236.60" text-anchor="end">10<tspan font-size="10.3" dy="-5.6">4</tspan></text>
<text x="39.1" y="193.10" text-anchor="end">10<tspan font-size="10.3" dy="-5.6">5</tspan></text>
<text x="39.1" y="149.60" text-anchor="end">10<tspan font-size="10.3" dy="-5.6">6</tspan></text>
<text x="39.1" y="106.10" text-anchor="end">10<tspan font-size="10.3" dy="-5.6">7</tspan></text>
<text x="39.1" y="62.60" text-anchor="end">10<tspan font-size="10.3" dy="-5.6">8</tspan></text>
<text x="39.1" y="19.10" text-anchor="end">10<tspan font-size="10.3" dy="-5.6">9</tspan></text>
<text x="68.05" y="255.6" text-anchor="middle">-14</text>
<text x="111.56" y="255.6" text-anchor="middle">-12</text>
<text x="155.07" y="255.6" text-anchor="middle">-10</text>
<text x="198.57" y="255.6" text-anchor="middle">-8</text>
<text x="242.08" y="255.6" text-anchor="middle">-6</text>
<text x="285.58" y="255.6" text-anchor="middle">-4</text>
<text x="329.09" y="255.6" text-anchor="middle">-2</text>
<text x="374.30" y="255.6" text-anchor="middle">0</text>
<text x="220.4" y="275.8" text-anchor="middle">z [10<tspan font-size="10.3" dy="-6.2">17</tspan><tspan dy="6.2"> cm]</tspan></text>
<text transform="translate(14.0,126) rotate(-90)" text-anchor="middle" letter-spacing="0.08">Temperature [K]</text>
<text x="68.3" y="128.9">V<tspan font-size="10.3" dy="2.9">sh</tspan><tspan dy="-2.9">= 4000 km/s</tspan></text>
<text x="68.3" y="150.8">n<tspan font-size="10.3" dy="3.1">0</tspan><tspan dy="-3.1"> = 0.1 cm</tspan><tspan font-size="10.3" dy="-5.4">-3</tspan></text>
<text x="68.3" y="169.9">p<tspan font-size="10.3" dy="3.3">max</tspan><tspan dy="-3.3"> = 50 TeV/c</tspan></text>
<text x="195.6" y="29.5" text-anchor="end">no CRs</text>
<text x="195.6" y="41.8" text-anchor="end" xml:space="preserve">ξ<tspan font-size="10.3" dy="3.0">inj</tspan><tspan dy="-3.0">= 3.5;  η</tspan><tspan font-size="10.3" dy="3.4">TH</tspan><tspan dy="-3.4">= 0.0</tspan></text>
<text x="195.6" y="54.3" text-anchor="end">0.2</text>
<text x="195.6" y="66.7" text-anchor="end">0.5</text>
<text x="195.6" y="79.2" text-anchor="end">0.8</text>
</g>
</svg>
</body></html>
